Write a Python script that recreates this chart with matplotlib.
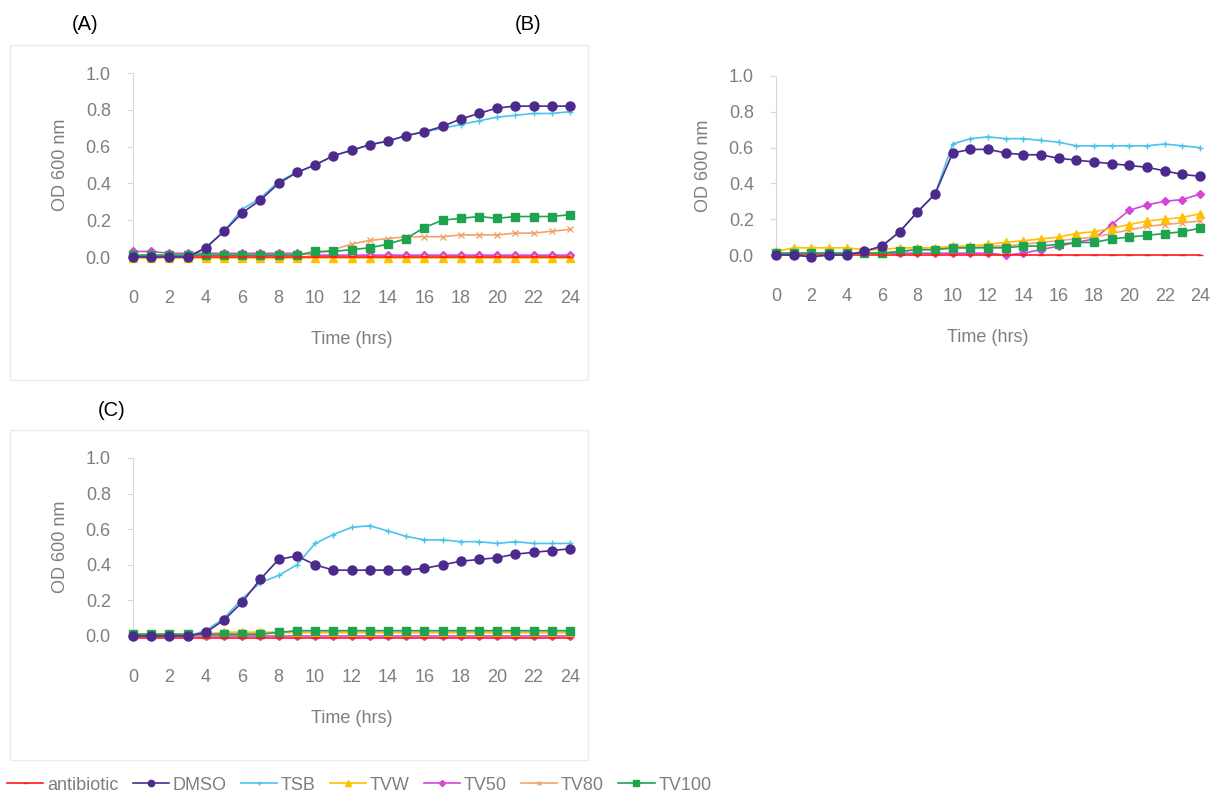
import numpy as np
import matplotlib
matplotlib.use("Agg")
import matplotlib.pyplot as plt
from matplotlib.patches import Rectangle

plt.rcParams["font.family"] = ["Liberation Sans", "DejaVu Sans"]

hours = list(range(25))

# panel A
a_antibiotic = [0.0] * 25
a_dmso = [0.0, 0.0, 0.0, 0.0, 0.05, 0.14, 0.24, 0.31, 0.40, 0.46, 0.50, 0.55, 0.58,
          0.61, 0.63, 0.66, 0.68, 0.71, 0.75, 0.78, 0.81, 0.82, 0.82, 0.82, 0.82]
a_tsb = [0.0, 0.0, 0.0, 0.0, 0.05, 0.14, 0.26, 0.32, 0.41, 0.46, 0.50, 0.55, 0.58,
         0.61, 0.63, 0.66, 0.68, 0.70, 0.72, 0.74, 0.76, 0.77, 0.78, 0.78, 0.79]
a_tvw = [-0.005] * 25
a_tv50 = [0.03, 0.03, 0.02, 0.02, 0.02, 0.02, 0.02, 0.02, 0.02, 0.02, 0.01, 0.01, 0.01,
          0.01, 0.01, 0.01, 0.01, 0.01, 0.01, 0.01, 0.01, 0.01, 0.01, 0.01, 0.01]
a_tv80 = [0.01, 0.01, 0.01, 0.01, 0.01, 0.01, 0.01, 0.01, 0.01, 0.01, 0.02, 0.04, 0.07,
          0.09, 0.10, 0.11, 0.11, 0.11, 0.12, 0.12, 0.12, 0.13, 0.13, 0.14, 0.15]
a_tv100 = [0.01, 0.01, 0.01, 0.01, 0.01, 0.01, 0.01, 0.01, 0.01, 0.01, 0.03, 0.03, 0.04,
           0.05, 0.07, 0.10, 0.16, 0.20, 0.21, 0.22, 0.21, 0.22, 0.22, 0.22, 0.23]

# panel B
b_antibiotic = [0.0] * 25
b_dmso = [0.0, 0.0, -0.01, 0.0, 0.0, 0.02, 0.05, 0.13, 0.24, 0.34, 0.57, 0.59, 0.59,
          0.57, 0.56, 0.56, 0.54, 0.53, 0.52, 0.51, 0.50, 0.49, 0.47, 0.45, 0.44]
b_tsb = [0.0, 0.0, -0.01, 0.0, 0.0, 0.02, 0.05, 0.13, 0.24, 0.34, 0.62, 0.65, 0.66,
         0.65, 0.65, 0.64, 0.63, 0.61, 0.61, 0.61, 0.61, 0.61, 0.62, 0.61, 0.60]
b_tvw = [0.02, 0.04, 0.04, 0.04, 0.04, 0.03, 0.03, 0.04, 0.04, 0.04, 0.05, 0.05, 0.06,
         0.07, 0.08, 0.09, 0.10, 0.12, 0.13, 0.15, 0.17, 0.19, 0.20, 0.21, 0.23]
b_tv50 = [0.01, 0.01, 0.01, 0.01, 0.01, 0.01, 0.01, 0.01, 0.01, 0.01, 0.01, 0.01, 0.01,
          0.0, 0.01, 0.03, 0.05, 0.07, 0.09, 0.17, 0.25, 0.28, 0.30, 0.31, 0.34]
b_tv80 = [0.01, 0.01, 0.01, 0.01, 0.01, 0.01, 0.01, 0.02, 0.03, 0.03, 0.04, 0.04, 0.05,
          0.05, 0.06, 0.07, 0.08, 0.09, 0.10, 0.12, 0.14, 0.16, 0.17, 0.18, 0.19]
b_tv100 = [0.01, 0.01, 0.01, 0.01, 0.01, 0.01, 0.01, 0.02, 0.03, 0.03, 0.04, 0.04, 0.04,
           0.04, 0.05, 0.05, 0.06, 0.07, 0.07, 0.09, 0.10, 0.11, 0.12, 0.13, 0.15]

# panel C
c_antibiotic = [-0.01] * 25
c_dmso = [0.0, 0.0, 0.0, 0.0, 0.02, 0.09, 0.19, 0.32, 0.43, 0.45, 0.40, 0.37, 0.37,
          0.37, 0.37, 0.37, 0.38, 0.40, 0.42, 0.43, 0.44, 0.46, 0.47, 0.48, 0.49]
c_tsb = [0.0, 0.0, 0.0, 0.0, 0.03, 0.10, 0.21, 0.30, 0.34, 0.40, 0.52, 0.57, 0.61,
         0.62, 0.59, 0.56, 0.54, 0.54, 0.53, 0.53, 0.52, 0.53, 0.52, 0.52, 0.52]
c_tvw = [0.01, 0.01, 0.01, 0.01, 0.01, 0.02, 0.02, 0.02, 0.02, 0.02, 0.02, 0.02, 0.02,
         0.02, 0.02, 0.02, 0.02, 0.02, 0.02, 0.02, 0.02, 0.02, 0.02, 0.02, 0.02]
c_tv50 = [0.0] * 25
c_tv80 = [0.01, 0.01, 0.01, 0.01, 0.01, 0.02, 0.02, 0.02, 0.02, 0.02, 0.02, 0.02, 0.02,
          0.02, 0.02, 0.02, 0.02, 0.02, 0.02, 0.02, 0.02, 0.02, 0.02, 0.02, 0.02]
c_tv100 = [0.01, 0.01, 0.01, 0.01, 0.01, 0.01, 0.01, 0.01, 0.02, 0.03, 0.03, 0.03, 0.03,
           0.03, 0.03, 0.03, 0.03, 0.03, 0.03, 0.03, 0.03, 0.03, 0.03, 0.03, 0.03]

series_names = ["antibiotic", "DMSO", "TSB", "TVW", "TV50", "TV80", "TV100"]
series_style = {
    "antibiotic": dict(color="#ff1a1a", marker="_", ms=5),
    "DMSO": dict(color="#4b2a8c", marker="o", ms=6.5),
    "TSB": dict(color="#4cc3ea", marker="+", ms=5),
    "TVW": dict(color="#ffc000", marker="^", ms=5.5),
    "TV50": dict(color="#d646d6", marker="D", ms=4.5),
    "TV80": dict(color="#f4a36a", marker="x", ms=5),
    "TV100": dict(color="#1fa34f", marker="s", ms=5.5),
}
# drawing order: bottom to top
draw_order = ["TV50", "TV80", "TVW", "TV100", "antibiotic", "TSB", "DMSO"]

panels = {
    "A": dict(antibiotic=a_antibiotic, DMSO=a_dmso, TSB=a_tsb, TVW=a_tvw,
              TV50=a_tv50, TV80=a_tv80, TV100=a_tv100),
    "B": dict(antibiotic=b_antibiotic, DMSO=b_dmso, TSB=b_tsb, TVW=b_tvw,
              TV50=b_tv50, TV80=b_tv80, TV100=b_tv100),
    "C": dict(antibiotic=c_antibiotic, DMSO=c_dmso, TSB=c_tsb, TVW=c_tvw,
              TV50=c_tv50, TV80=c_tv80, TV100=c_tv100),
}

W, H = 1215, 793
fig = plt.figure(figsize=(W / 100, H / 100), dpi=100)
fig.patch.set_facecolor("white")

def px_axes(x0, x1, y_top, y_bot):
    return [x0 / W, 1 - y_bot / H, (x1 - x0) / W, (y_bot - y_top) / H]

# faint chart-area frames
for (x, y, w, h) in [(10, 45, 578, 335), (10, 430, 578, 330)]:
    fig.patches.append(Rectangle((x / W, 1 - (y + h) / H), w / W, h / H,
                                 transform=fig.transFigure, fill=False,
                                 edgecolor="#ececec", linewidth=1.0))

boxes = {
    "A": px_axes(133, 570, 73, 257),
    "B": px_axes(776, 1200, 76, 255),
    "C": px_axes(133, 570, 458, 636),
}

grey = "#7f7f7f"
fs = 13
handles = {}
for key, box in boxes.items():
    ax = fig.add_axes(box)
    data = panels[key]
    for name in draw_order:
        st = series_style[name]
        ln, = ax.plot(hours, data[name], color=st["color"], lw=1.2,
                      marker=st["marker"], markersize=st["ms"],
                      markerfacecolor=st["color"], markeredgecolor=st["color"],
                      markeredgewidth=1.0, clip_on=False, zorder=3)
        handles[name] = ln
    ax.set_xlim(0, 24)
    ax.set_ylim(0, 1.0)
    ax.set_xticks(range(0, 25, 2))
    ax.set_yticks(np.arange(0, 1.01, 0.2))
    ax.set_yticklabels([f"{v:.1f}" for v in np.arange(0, 1.01, 0.2)])
    for sp in ["top", "right", "bottom"]:
        ax.spines[sp].set_visible(False)
    ax.spines["left"].set_color("#d9d9d9")
    ax.spines["left"].set_linewidth(0.8)
    ax.tick_params(axis="y", length=4, color="#d9d9d9", pad=12,
                   labelsize=fs, labelcolor=grey)
    ax.tick_params(axis="x", length=0, pad=24, labelsize=fs, labelcolor=grey)
    ax.set_ylabel("OD 600 nm", fontsize=fs, color=grey, labelpad=12)
    ax.set_xlabel("Time (hrs)", fontsize=fs, color=grey, labelpad=17)
    ax.patch.set_alpha(0)

fig.text(85 / W, 1 - 25 / H, "(A)", fontsize=14.5, ha="center", va="center")
fig.text(528 / W, 1 - 25 / H, "(B)", fontsize=14.5, ha="center", va="center")
fig.text(112 / W, 1 - 410 / H, "(C)", fontsize=14.5, ha="center", va="center")

fig.legend([handles[n] for n in series_names], series_names, loc="center left",
           bbox_to_anchor=(0.006, 1 - 785 / H), ncol=7, frameon=False,
           fontsize=fs, labelcolor=grey, handlelength=2.0, handletextpad=0.2,
           columnspacing=0.8, markerscale=0.7, borderpad=0, borderaxespad=0)

fig.savefig("out.png", dpi=100, facecolor="white")
